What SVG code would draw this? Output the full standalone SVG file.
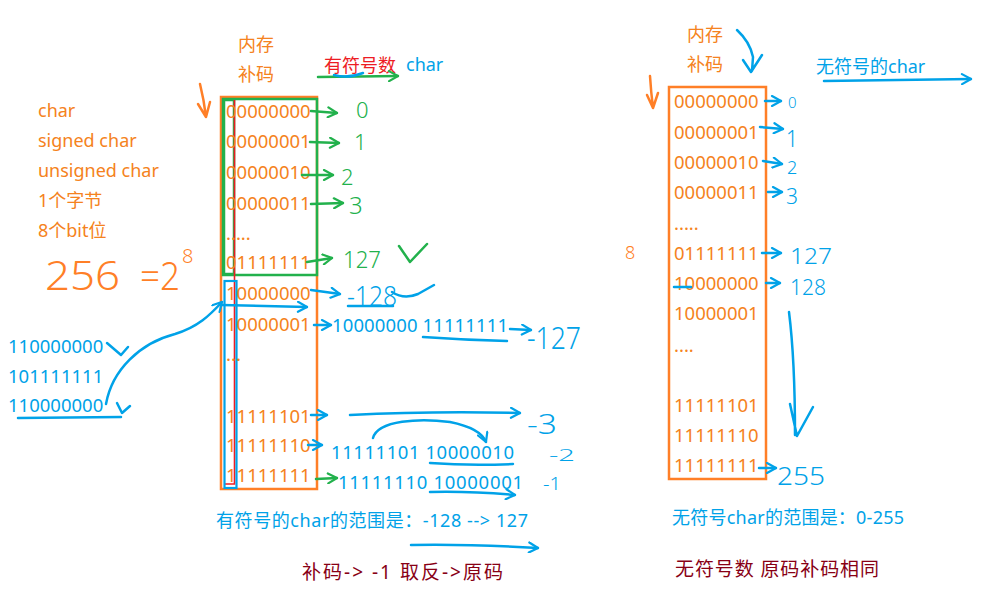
<svg xmlns="http://www.w3.org/2000/svg" width="981" height="589" viewBox="0 0 981 589">
<style>
text{font-family:"Noto Sans","Noto Sans CJK SC",sans-serif;}
.o{fill:#F58220;font-size:18px;}
.b{fill:#00A2E8;font-size:18px;}
.bin{fill:#F58220;font-size:18.5px;}
.binb{fill:#00A2E8;font-size:18.5px;}
.r{fill:#ED1C24;font-size:18px;}
.dr{fill:#880015;font-size:19px;}
.hg{fill:#22B14C;font-weight:300;}
.hb{fill:#00A2E8;font-weight:300;}
.ho{fill:#FF7F27;font-weight:300;}
.sg{fill:none;stroke:#22B14C;stroke-width:2.5;stroke-linecap:round;stroke-linejoin:round;}
.sb{fill:none;stroke:#00A2E8;stroke-width:2.5;stroke-linecap:round;stroke-linejoin:round;}
.so{fill:none;stroke:#FF7F27;stroke-width:2.5;stroke-linecap:round;stroke-linejoin:round;}
.ag{marker-end:url(#mg);}
.ab{marker-end:url(#mb);}
.ao{marker-end:url(#mo);}
</style>
<defs>
<marker id="mg" viewBox="0 0 12 12" refX="11" refY="6" markerWidth="12" markerHeight="12" markerUnits="userSpaceOnUse" orient="auto"><path d="M2,1 L11,6 L2,11" fill="none" stroke="#22B14C" stroke-width="2.2" stroke-linecap="round"/></marker>
<marker id="mb" viewBox="0 0 12 12" refX="11" refY="6" markerWidth="12" markerHeight="12" markerUnits="userSpaceOnUse" orient="auto"><path d="M2,1 L11,6 L2,11" fill="none" stroke="#00A2E8" stroke-width="2.2" stroke-linecap="round"/></marker>
<marker id="mo" viewBox="0 0 12 12" refX="11" refY="6" markerWidth="12" markerHeight="12" markerUnits="userSpaceOnUse" orient="auto"><path d="M2,1 L11,6 L2,11" fill="none" stroke="#FF7F27" stroke-width="2.2" stroke-linecap="round"/></marker>
</defs>
<rect width="981" height="589" fill="#ffffff"/>

<g id="type-list">
<text class="o" x="38" y="117">char</text>
<text class="o" x="38" y="147">signed char</text>
<text class="o" x="38" y="177">unsigned char</text>
<text class="o" x="38" y="207">1个字节</text>
<text class="o" x="38" y="237">8个bit位</text>
<text class="ho" x="45" y="290" font-size="40" textLength="75" lengthAdjust="spacingAndGlyphs">256</text>
<text class="ho" x="140" y="290" font-size="38" textLength="40" lengthAdjust="spacingAndGlyphs">=2</text>
<text class="ho" x="182" y="263" font-size="20">8</text>
</g>

<g id="left-header">
<text class="o" x="238" y="51">内存</text>
<text class="o" x="238" y="81">补码</text>
<text class="r" x="324" y="72">有符号数</text>
<text class="b" x="406" y="71">char</text>
</g>

<g id="signed-box">
<rect x="221" y="97" width="96" height="392" fill="none" stroke="#FF7F27" stroke-width="2.5"/>
<rect x="223" y="99" width="94" height="176" fill="none" stroke="#22B14C" stroke-width="2.5"/>
<rect x="224" y="100" width="10" height="174" fill="none" stroke="#22B14C" stroke-width="2.5"/>
<path d="M234.5,100 V484 H224" fill="none" stroke="#ED1C24" stroke-width="1.6"/>
<rect x="224.5" y="281" width="12" height="207" fill="none" stroke="#00A2E8" stroke-width="2.2"/>
<text class="bin" x="226" y="118">00000000</text>
<text class="bin" x="226" y="148">00000001</text>
<text class="bin" x="226" y="179">00000010</text>
<text class="bin" x="226" y="210">00000011</text>
<text class="bin" x="226" y="240" font-size="14">.....</text>
<text class="bin" x="226" y="269">01111111</text>
<text class="bin" x="226" y="300">10000000</text>
<text class="bin" x="226" y="331">10000001</text>
<text class="bin" x="226" y="361" font-size="12">...</text>
<text class="bin" x="226" y="423">11111101</text>
<text class="bin" x="226" y="452">11111110</text>
<text class="bin" x="226" y="482">11111111</text>
</g>

<g id="overflow-notes">
<text class="binb" x="8" y="353">110000000</text>
<text class="binb" x="8" y="383">101111111</text>
<text class="binb" x="8" y="412">110000000</text>
<text class="binb" x="332" y="332" textLength="176" lengthAdjust="spacing">10000000 11111111</text>
<text class="binb" x="331" y="459" textLength="183" lengthAdjust="spacing">11111101  10000010</text>
<text class="binb" x="338" y="489" textLength="185" lengthAdjust="spacing">11111110  10000001</text>
</g>

<g id="signed-values">
<text class="hg" x="356" y="118" font-size="22">0</text>
<text class="hg" x="354" y="150" font-size="22">1</text>
<text class="hg" x="341" y="185" font-size="22">2</text>
<text class="hg" x="349" y="214" font-size="24">3</text>
<text class="hg" x="343" y="268" font-size="24" textLength="38" lengthAdjust="spacingAndGlyphs">127</text>
<text class="hb" x="347" y="306" font-size="28" textLength="50" lengthAdjust="spacingAndGlyphs">-128</text>
<text class="hb" x="527" y="349" font-size="32" textLength="54" lengthAdjust="spacingAndGlyphs">-127</text>
<text class="hb" x="527" y="434" font-size="28" textLength="30" lengthAdjust="spacingAndGlyphs">-3</text>
<text class="hb" x="549" y="461" font-size="16" textLength="26" lengthAdjust="spacingAndGlyphs">-2</text>
<text class="hb" x="543" y="490" font-size="18" textLength="18" lengthAdjust="spacingAndGlyphs">-1</text>
</g>

<g id="right-header">
<text class="o" x="687" y="41">内存</text>
<text class="o" x="687" y="71">补码</text>
<text class="b" x="816" y="73">无符号的char</text>
<text class="ho" x="625" y="259" font-size="18">8</text>
</g>

<g id="unsigned-box">
<rect x="669" y="87" width="97" height="392" fill="none" stroke="#FF7F27" stroke-width="2.5"/>
<text class="bin" x="674" y="108">00000000</text>
<text class="bin" x="674" y="139">00000001</text>
<text class="bin" x="674" y="169">00000010</text>
<text class="bin" x="674" y="199">00000011</text>
<text class="bin" x="674" y="230" font-size="14">.....</text>
<text class="bin" x="674" y="260">01111111</text>
<text class="bin" x="674" y="290">10000000</text>
<text class="bin" x="674" y="320">10000001</text>
<text class="bin" x="674" y="352" font-size="14">....</text>
<text class="bin" x="674" y="412">11111101</text>
<text class="bin" x="674" y="442">11111110</text>
<text class="bin" x="674" y="472">11111111</text>
</g>

<g id="unsigned-values">
<text class="hb" x="788" y="108" font-size="15">0</text>
<text class="hb" x="786" y="147" font-size="24" textLength="12" lengthAdjust="spacingAndGlyphs">1</text>
<text class="hb" x="787" y="174" font-size="18">2</text>
<text class="hb" x="786" y="204" font-size="22" textLength="12" lengthAdjust="spacingAndGlyphs">3</text>
<text class="hb" x="790" y="264" font-size="22" textLength="42" lengthAdjust="spacingAndGlyphs">127</text>
<text class="hb" x="790" y="295" font-size="21" textLength="36" lengthAdjust="spacingAndGlyphs">128</text>
<text class="hb" x="777" y="485" font-size="26" textLength="48" lengthAdjust="spacingAndGlyphs">255</text>
</g>

<g id="captions">
<text class="b" x="216" y="527" textLength="312" lengthAdjust="spacing">有符号的char的范围是：-128 --&gt; 127</text>
<text class="dr" x="302" y="579" textLength="201" lengthAdjust="spacing">补码-&gt; -1 取反-&gt;原码</text>
<text class="b" x="672" y="524" textLength="232" lengthAdjust="spacing">无符号char的范围是：0-255</text>
<text class="dr" x="675" y="576" textLength="204" lengthAdjust="spacing">无符号数 原码补码相同</text>
</g>

<g id="connectors">
<path class="so" d="M200,84 Q204,100 206,117 M198,104 L206,117 L210,102"/>
<path class="so" d="M650,76 Q651,92 653,108 M647,95 L653,108 L658,93"/>
<path class="sg ag" d="M318,77 L398,76"/>
<path class="sb" d="M334,75 Q348,79 363,73"/>
<path class="sg ag" d="M311,111 L337,113"/>
<path class="sg ag" d="M310,142 L339,143"/>
<path class="sg ag" d="M302,175 L333,175"/>
<path class="sg ag" d="M311,204 L343,203"/>
<path class="sg ag" d="M307,262 L332,258"/>
<path class="sg" d="M399,246 L410,262 L427,244"/>
<path class="sg ag" d="M316,479 L337,478"/>
<path class="sb ab" d="M311,290 L340,294"/>
<path class="sb" d="M348,306 L393,306 M392,292 Q404,300 418,294 L434,285"/>
<path class="sb ab" d="M221,305 L307,307"/>
<path class="sb ab" d="M106,404 C112,370 140,343 175,334 C198,327 210,315 222,302"/>
<path class="sb" d="M18,418 L121,417"/>
<path class="sb" d="M107,343 L121,355 L128,347"/>
<path class="sb" d="M117,403 L122,413 L130,406"/>
<path class="sb ab" d="M314,325 L331,325"/>
<path class="sb" d="M423,337 Q465,340 507,341"/>
<path class="sb ab" d="M510,329 L531,330"/>
<path class="sb ab" d="M311,415 L327,415"/>
<path class="sb ab" d="M350,415 Q430,411 520,413"/>
<path class="sb ab" d="M308,445 L322,445"/>
<path class="sb ab" d="M373,438 C378,420 420,418 450,422 C470,426 482,432 486,442"/>
<path class="sb" d="M430,463 Q470,466 513,464"/>
<path class="sb ab" d="M430,492 Q470,491 515,495"/>
<path class="sb ab" d="M411,545 Q470,544 538,548"/>
<path class="sb" d="M737,30 Q750,42 753,57 L752,71 M743,60 L751,72 L762,55"/>
<path class="sb ab" d="M824,81 L971,79"/>
<path class="sb ab" d="M765,101 L781,101"/>
<path class="sb ab" d="M760,127 L783,129"/>
<path class="sb ab" d="M763,161 L782,164"/>
<path class="sb ab" d="M768,192 L782,192"/>
<path class="sb ab" d="M762,253 L781,253"/>
<path class="sb ab" d="M766,283 L780,283"/>
<path class="sb" d="M674,287 L691,287"/>
<path class="sb" d="M789,312 Q795,360 795,435 M790,404 L797,436 L813,407"/>
<path class="sb ab" d="M759,468 L776,468"/>
</g>
</svg>
